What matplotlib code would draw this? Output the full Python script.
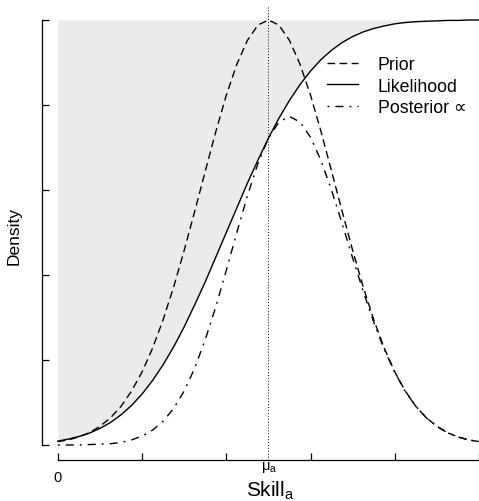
import matplotlib
matplotlib.use("Agg")
import matplotlib.pyplot as plt

plt.rcParams['font.family'] = ['Liberation Sans', 'DejaVu Sans']
plt.rcParams['mathtext.fontset'] = 'custom'
plt.rcParams['mathtext.rm'] = 'Liberation Sans'
plt.rcParams['mathtext.it'] = 'Liberation Sans'

# ---- data (x step 0.125) ----
skill = [0.0, 0.125, 0.25, 0.375, 0.5, 0.625, 0.75, 0.875, 1.0, 1.125, 1.25,
         1.375, 1.5, 1.625, 1.75, 1.875, 2.0, 2.125, 2.25, 2.375, 2.5,
         2.625, 2.75, 2.875, 3.0, 3.125, 3.25, 3.375, 3.5, 3.625, 3.75,
         3.875, 4.0, 4.125, 4.25, 4.375, 4.5, 4.625, 4.75, 4.875, 5.0]

prior = [0.008, 0.012, 0.019, 0.029, 0.044, 0.064, 0.091, 0.127, 0.172, 0.228, 0.295,
         0.372, 0.458, 0.550, 0.644, 0.737, 0.823, 0.896, 0.952, 0.988, 1.000,
         0.988, 0.952, 0.896, 0.823, 0.737, 0.644, 0.550, 0.458, 0.372, 0.295,
         0.228, 0.172, 0.127, 0.091, 0.064, 0.044, 0.029, 0.019, 0.012, 0.008]

likelihood = [0.009, 0.014, 0.020, 0.028, 0.039, 0.053, 0.071, 0.093, 0.120, 0.152, 0.189,
              0.231, 0.278, 0.330, 0.384, 0.442, 0.500, 0.558, 0.616, 0.670, 0.722,
              0.769, 0.811, 0.848, 0.880, 0.907, 0.929, 0.947, 0.961, 0.972, 0.980,
              0.986, 0.991, 0.994, 0.996, 0.997, 0.998, 0.999, 0.999, 1.000, 1.000]

posterior = [0.000, 0.000, 0.000, 0.001, 0.002, 0.003, 0.006, 0.012, 0.021, 0.035, 0.056,
             0.086, 0.127, 0.181, 0.248, 0.325, 0.411, 0.500, 0.586, 0.662, 0.722,
             0.760, 0.773, 0.760, 0.724, 0.669, 0.599, 0.521, 0.440, 0.362, 0.289,
             0.225, 0.171, 0.126, 0.091, 0.064, 0.044, 0.029, 0.019, 0.012, 0.008]

mu_a = 2.5
x_ticks = [0, 1, 2, 3, 4, 5]
y_ticks = [0, 0.2, 0.4, 0.6, 0.8, 1.0]
legend_labels = ["Prior", "Likelihood", "Posterior \u221d"]

W, H = 479, 502
fig = plt.figure(figsize=(W / 100, H / 100), dpi=100)

# pixel mapping: x=0 -> 58px, 85 px/unit ; y=0 -> 446px, 425 px/unit
left_px, right_px, top_px, bot_px = 42, 479, 4, 461
ax = fig.add_axes([left_px / W, 1 - bot_px / H, (right_px - left_px) / W, (bot_px - top_px) / H])
ax.set_xlim((left_px - 58) / 85, (right_px - 58) / 85)
ax.set_ylim((446 - bot_px) / 425, (446 - top_px) / 425)

ax.fill_between(skill, likelihood, [1.0] * len(skill), color='#ebebeb', lw=0, zorder=1)
ax.axvline(mu_a, ymin=0, ymax=(bot_px - 7) / (bot_px - top_px), color='black',
           lw=0.7, ls=(0, (1, 2)), zorder=2)

l1, = ax.plot(skill, prior, color='black', lw=1.0, ls=(0, (5.5, 3.2)), zorder=3)
l2, = ax.plot(skill, likelihood, color='black', lw=1.0, ls='-', zorder=3)
l3, = ax.plot(skill, posterior, color='black', lw=1.0, ls=(0, (1.4, 4.3, 5.8, 4.3)), zorder=3)

for s in ['top', 'right']:
    ax.spines[s].set_visible(False)
ax.spines['left'].set_bounds(0, 1)
ax.spines['bottom'].set_bounds(0, 5)
ax.spines['left'].set_linewidth(0.9)
ax.spines['bottom'].set_linewidth(0.9)
ax.set_xticks(x_ticks)
ax.set_yticks(y_ticks)
ax.tick_params(direction='in', length=5, width=0.9, labelbottom=False, labelleft=False)

fs_leg = 12.8
leg = ax.legend([l1, l2, l3], legend_labels, loc='upper left',
                bbox_to_anchor=(327 / W, 1 - 57 / H), bbox_transform=fig.transFigure,
                frameon=False, fontsize=fs_leg, borderpad=0, borderaxespad=0,
                handlelength=1.74, handletextpad=1.12, labelspacing=0.26)

fig.text(58 / W, 1 - 478 / H, "0", ha='center', va='center', fontsize=10.5)
fig.text(269 / W, 1 - 468 / H, r"$\mathregular{\mu_a}$", ha='center', va='center', fontsize=10.5)
fig.text(270 / W, 1 - 497 / H, r"$\mathregular{Skill_a}$", ha='center', va='baseline', fontsize=15)
fig.text(14 / W, 1 - 236 / H, "Density", ha='center', va='center', rotation=90, fontsize=12.5)

fig.savefig("out.png", dpi=100)
